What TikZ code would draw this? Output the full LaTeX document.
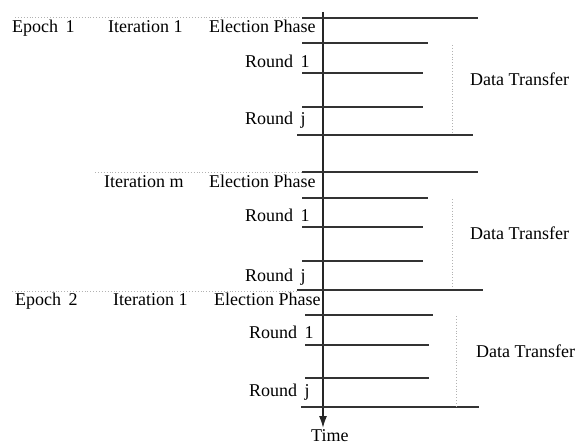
\documentclass[tikz,border=0pt]{standalone}
\usepackage{fontspec}
\setmainfont{Liberation Serif}
\usetikzlibrary{arrows.meta}
\begin{document}
\begin{tikzpicture}[
        x=1pt, y=-1pt,
        every node/.style={
            anchor=base west,
            inner sep=0pt,
            font=\fontsize{18}{20}\selectfont
        },
        fase/.style={line width=1.2pt, black!80},
        guia/.style={dotted, line width=0.9pt, gray!60}
    ]
    \useasboundingbox (0,0) rectangle (575,444);

    % Eje de tiempo
    \coordinate (t0) at (323,12);
    \coordinate (t1) at (323,428);
    \draw[line width=1.6pt, black!85, -{Latex[length=12pt,width=8pt]}] (t0) -- (t1);
    \node (time) at (311,441) {Time};

    % Epoch 1, Iteration 1
    \node (ep1) at (12,33) {Epoch\, 1};
    \node (it1) at (108,33) {Iteration 1};
    \node (el1) at (209,33) {Election Phase};
    \node (ra1) at (245,67) {Round\, 1};
    \node (rj1) at (245,124) {Round\, j};
    \node (dt1) at (470,85) {Data Transfer};

    \draw[guia] (15,17) -- (302,17);
    \draw[fase] (302,18) -- (478,18);
    \draw[fase] (302,43) -- (428,43);
    \draw[fase] (302,73) -- (423,73);
    \draw[fase] (302,107) -- (423,107);
    \draw[fase] (297,135) -- (473,135);
    \draw[guia] (452,45) -- (452,133);

    % Iteration m
    \node (itm) at (104,187) {Iteration m};
    \node (el2) at (209,187) {Election Phase};
    \node (ra2) at (245,221) {Round\, 1};
    \node (rj2) at (245,281) {Round\, j};
    \node (dt2) at (470,239) {Data Transfer};

    \draw[guia] (95,172) -- (302,172);
    \draw[fase] (302,172) -- (478,172);
    \draw[fase] (302,198) -- (428,198);
    \draw[fase] (302,227) -- (423,227);
    \draw[fase] (302,261) -- (423,261);
    \draw[fase] (297,290) -- (483,290);
    \draw[guia] (452,199) -- (452,287);

    % Epoch 2, Iteration 1
    \node (ep2) at (15,305) {Epoch\, 2};
    \node (it2) at (113,305) {Iteration 1};
    \node (el3) at (214,305) {Election Phase};
    \node (ra3) at (249,338) {Round\, 1};
    \node (rj3) at (249,396) {Round\, j};
    \node (dt3) at (476,357) {Data Transfer};

    \draw[guia] (12,291) -- (297,291);
    \draw[fase] (305,315) -- (433,315);
    \draw[fase] (305,345) -- (429,345);
    \draw[fase] (305,378) -- (429,378);
    \draw[fase] (301,407) -- (479,407);
    \draw[guia] (456,316) -- (456,406);

    \end{tikzpicture}
\end{document}
